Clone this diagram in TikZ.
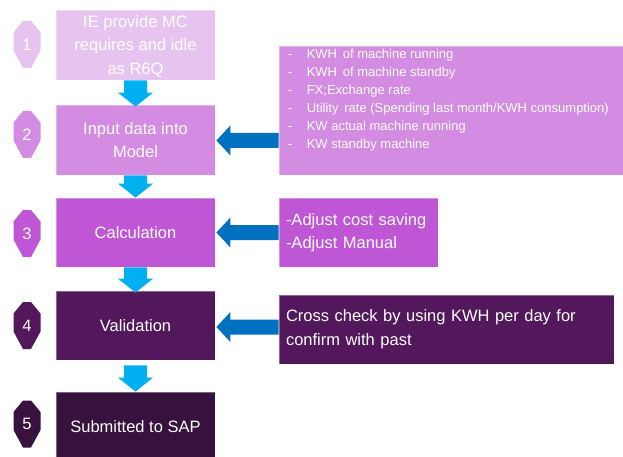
\documentclass[tikz,border=0pt]{standalone}
\usepackage{fontspec}
\setmainfont{Liberation Sans}
\usetikzlibrary{calc}
\definecolor{cA}{HTML}{E7C4EF}
\definecolor{cB}{HTML}{D48CE3}
\definecolor{cC}{HTML}{BF56D5}
\definecolor{cD}{HTML}{52185B}
\definecolor{cE}{HTML}{37123E}
\definecolor{cyanA}{HTML}{00B0F0}
\definecolor{blueA}{HTML}{0070C0}
\tikzset{
  mainbox/.style={rectangle, minimum width=159pt, minimum height=70pt, inner sep=0pt,
    text=white, align=center, font=\fontsize{16.5}{23.5}\selectfont,
    draw=white, draw opacity=0.35, line width=0.8pt},
  sidebox/.style={rectangle, inner sep=0pt, draw=white, draw opacity=0.35, line width=0.8pt},
  sidetext/.style={rectangle, inner ysep=0pt, inner xsep=7pt, text=white, align=left},
  badgenum/.style={text=white, font=\fontsize{16.5}{16.5}\selectfont, inner sep=0pt},
  downarr/.style={fill=cyanA},
  leftarr/.style={fill=blueA},
}
% down block arrow: #1 from node, #2 to node, #3 start y offset, #4 tip y offset
\newcommand\dnarrow[4]{%
  \fill[downarr] ($(#1.south)+(-11.5,#3)$) -- ($(#1.south)+(11.5,#3)$)
    -- ($(#2.north)+(11.5,#4-14)$) -- ($(#2.north)+(17.5,#4-14)$)
    -- ($(#2.north)+(0,#4)$)
    -- ($(#2.north)+(-17.5,#4-14)$) -- ($(#2.north)+(-11.5,#4-14)$) -- cycle;}
% left block arrow: #1 from node, #2 to node, #3 y offset
\newcommand\lfarrow[3]{%
  \fill[leftarr] ($(#1.west |- #2.east)+(0,#3-7.5)$) -- ($(#2.east)+(15,#3-7.5)$)
    -- ($(#2.east)+(15,#3-15)$) -- ($(#2.east)+(1,#3)$) -- ($(#2.east)+(15,#3+15)$)
    -- ($(#2.east)+(15,#3+7.5)$) -- ($(#1.west |- #2.east)+(0,#3+7.5)$) -- cycle;}
% badge: #1 name, #2 x, #3 y, #4 colour, #5 text
\newcommand\badge[5]{%
  \fill[#4] (#2-4,#3-23.5) -- (#2+4,#3-23.5) -- (#2+13.5,#3-12) -- (#2+13.5,#3+6)
    -- (#2+4,#3+23.5) -- (#2-4,#3+23.5) -- (#2-13.5,#3+6) -- (#2-13.5,#3-12) -- cycle;
  \node[badgenum] (#1) at (#2,#3) {#5};}
\begin{document}
\begin{tikzpicture}[x=1pt,y=-1pt]
\useasboundingbox (0,0) rectangle (623,457);
% main boxes
\node[mainbox, fill=cA, text depth=-12pt] (b1) at (135.5,45) {IE provide MC\\requires and idle\\as R6Q};
\node[mainbox, fill=cB] (b2) at (135.5,140) {Input data into\\Model};
\node[mainbox, fill=cC, minimum height=69pt] (b3) at (135.5,232.5) {Calculation};
\node[mainbox, fill=cD, minimum height=69pt] (b4) at (135.5,325.5) {Validation};
\node[mainbox, fill=cE] (b5) at (135.5,427) {Submitted to SAP};
% badges
\badge{n1}{27}{44.5}{cA}{1}
\badge{n2}{27}{134.5}{cB}{2}
\badge{n3}{27}{233.5}{cC}{3}
\badge{n4}{27}{325.5}{cD}{4}
\badge{n5}{27}{424}{cE}{5}
% side boxes
\node[sidebox, fill=cB, minimum width=351pt, minimum height=129pt] (sA) at (454.5,110.5) {};
\node[anchor=north west, inner sep=0pt, text=white, font=\fontsize{13}{18}\selectfont] (tA)
  at ([xshift=9pt]sA.north west)
  {\begin{tabular}{@{}p{19pt}@{}l@{}}
  - & KWH\, of machine running\\
  - & KWH\, of machine standby\\
  - & FX;Exchange rate\\
  - & Utility\, rate (Spending last month/KWH consumption)\\
  - & KW actual machine running\\
  - & KW standby machine
  \end{tabular}};
\node[sidebox, sidetext, fill=cC, minimum width=159pt, minimum height=69pt, text width=145pt,
  font=\fontsize{16.5}{23}\selectfont] (sB) at (358.5,232.5) {-Adjust cost saving\\-Adjust Manual};
\node[sidebox, sidetext, fill=cD, minimum width=335pt, minimum height=69pt, text width=321pt,
  font=\fontsize{16.5}{24}\selectfont] (sC) at (446.5,329.5) {Cross check by using KWH per day for\\confirm with past};
% down arrows
\dnarrow{b1}{b2}{0}{2}
\dnarrow{b2}{b3}{0}{0}
\dnarrow{b3}{b4}{0}{2}
\dnarrow{b4}{b5}{5}{0}
% left arrows
\lfarrow{sA}{b2}{0.5}
\lfarrow{sB}{b3}{0}
\lfarrow{sC}{b4}{1.5}
\end{tikzpicture}
\end{document}
